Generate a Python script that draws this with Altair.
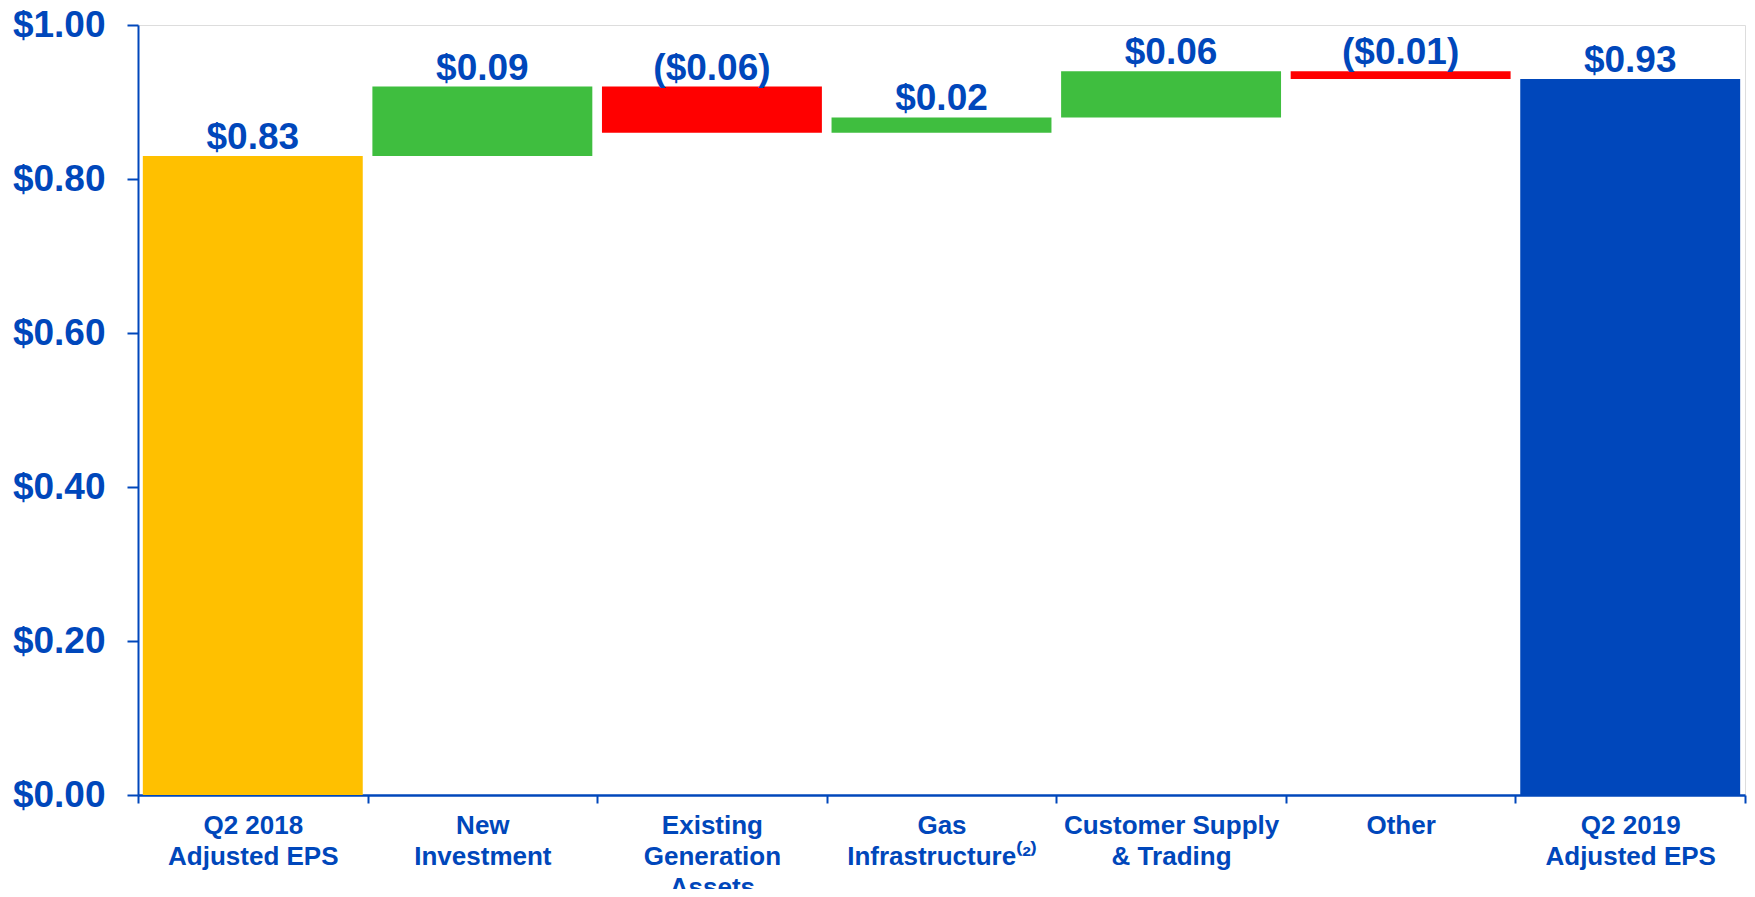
import altair as alt
import pandas as pd

categories = ["Q2 2018|Adjusted EPS", "New|Investment", "Existing|Generation|Assets",
              "Gas|Infrastructure⁽²⁾", "Customer Supply|& Trading", "Other", "Q2 2019|Adjusted EPS"]
changes = [0.83, 0.09, -0.06, 0.02, 0.06, -0.01, 0.93]
value_labels = ["$0.83", "$0.09", "($0.06)", "$0.02", "$0.06", "($0.01)", "$0.93"]
kinds = ["start", "up", "down", "up", "up", "down", "end"]
y_ticks = [0.0, 0.2, 0.4, 0.6, 0.8, 1.0]

rows = []
running = 0.0
for cat, ch, lab, kind in zip(categories, changes, value_labels, kinds):
    if kind in ("start", "end"):
        lo, hi = 0.0, ch
        running = ch
    else:
        lo, hi = running, running + ch
        running = hi
    rows.append({"cat": cat, "lo": lo, "hi": hi, "top": max(lo, hi), "label": lab, "kind": kind})
df = pd.DataFrame(rows)

BLUE = "#0047BB"
FONT = "Liberation Sans"

x_enc = alt.X("cat:N", sort=categories, title=None,
              scale=alt.Scale(paddingInner=0, paddingOuter=0),
              axis=alt.Axis(labelAngle=0, labelFont=FONT, labelFontSize=26, labelFontWeight="bold",
                            labelColor=BLUE, labelLineHeight=31, labelPadding=9,
                            labelExpr="split(datum.label, '|')", labelBaseline="top",
                            tickBand="extent", tickSize=8, tickColor=BLUE, tickWidth=2,
                            domainColor=BLUE, domainWidth=2.5, grid=False, labelLimit=400))

bars = alt.Chart(df).mark_bar(width=alt.RelativeBandSize(0.958)).encode(
    x=x_enc,
    y=alt.Y("lo:Q", title=None,
            scale=alt.Scale(domain=[0, 1], nice=False, zero=True),
            axis=alt.Axis(values=y_ticks, format="$.2f", labelFont=FONT, labelFontSize=37,
                          labelFontWeight="bold", labelColor=BLUE, labelPadding=22,
                          tickSize=11, tickColor=BLUE, tickWidth=2,
                          domainColor=BLUE, domainWidth=2, grid=False)),
    y2="hi:Q",
    color=alt.Color("kind:N", legend=None,
                    scale=alt.Scale(domain=["start", "up", "down", "end"],
                                    range=["#FFC000", "#3FBE3F", "#FF0000", BLUE])),
)

texts = alt.Chart(df).mark_text(font=FONT, fontSize=37, fontWeight="bold", color=BLUE,
                                baseline="alphabetic", dy=-7).encode(
    x=alt.X("cat:N", sort=categories),
    y=alt.Y("top:Q"),
    text="label:N",
)

chart = (bars + texts).properties(
    width=1607, height=770,
    autosize=alt.AutoSizeParams(type="none"),
    padding={"left": 130, "top": 17, "right": 2, "bottom": 94},
).configure_view(stroke=None).configure(background="white")

chart.save("out.html", embed_options={"renderer": "svg", "actions": False})
